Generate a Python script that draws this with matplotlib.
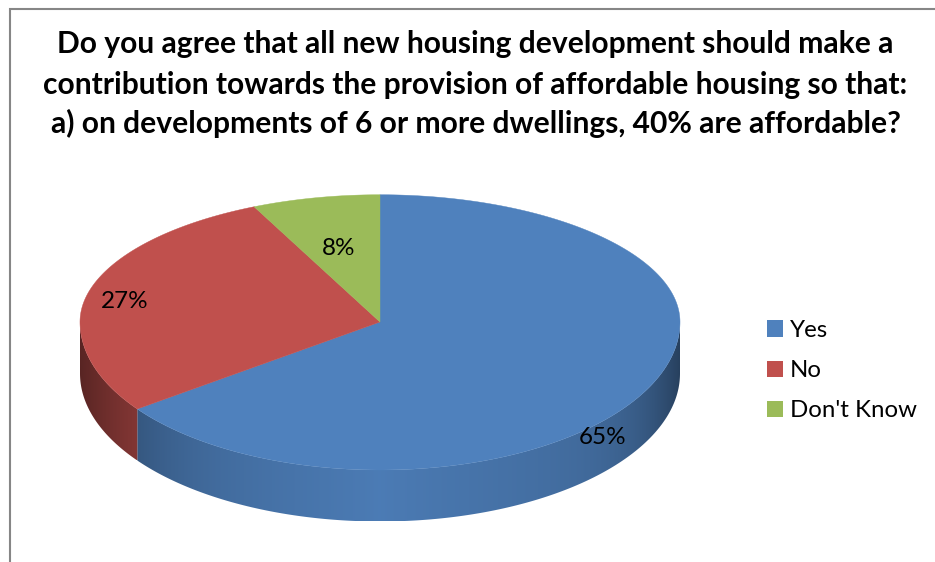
import numpy as np
import matplotlib
matplotlib.use("Agg")
from matplotlib import pyplot as plt
from matplotlib.patches import Patch, Polygon

plt.rcParams['font.family'] = ['Lato', 'DejaVu Sans']

# Survey results
categories = ["Yes", "No", "Don't Know"]
shares = [65, 27, 8]
labels = ["65%", "27%", "8%"]
title_lines = [
    "Do you agree that all new housing development should make a",
    "contribution towards the provision of affordable housing so that:",
    "a) on developments of 6 or more dwellings, 40% are affordable?",
]

top_colors = ["#4F81BD", "#C0504D", "#9BBB59"]
frame_color = "#868686"

# Pie geometry in pixels
cx, cy = 380.0, 322.0
rx, ry = 300.0, 148.0
depth = 51.5


def project(theta):
    # theta is measured clockwise from 12 o'clock; the far half is squeezed a bit
    u = np.sin(theta)
    v = np.cos(theta)
    back = np.clip(v, 0, None)**2
    x = cx + rx*u/(1 + 0.193*back)
    y = cy - ry*v/(1 + 0.163*back)
    return x, y


def rim_shade(x):
    # horizontal shading of the rim, strongest at the two ends
    s = (x - cx)/rx
    left = 0.96 - 0.16*np.abs(s)**0.8 - 0.34*np.abs(s)**4
    right = 0.96 - 0.16*np.abs(s)**0.8 - 0.30*np.abs(s)**7
    return np.where(s < 0, left, right)


fig = plt.figure(figsize=(9.35, 5.62), dpi=100)
ax = fig.add_axes([0, 0, 1, 1])

# Chart border: only the top and left edges are in view
ax.plot([10.3, 10.3, 935], [562, 9.3, 9.3], color=frame_color, lw=1.5, solid_joinstyle="miter")

edges = np.deg2rad(np.concatenate([[0], np.cumsum(shares)])*3.6)

# Rim of the front half, one gradient image per slice clipped to its outline
for i in range(len(shares)):
    t0 = max(edges[i], np.pi/2)
    t1 = min(edges[i+1], 3*np.pi/2)
    if t1 <= t0:
        continue
    theta = np.linspace(t0, t1, 300)
    x, y = project(theta)
    outline = np.column_stack([np.r_[x, x[::-1]], np.r_[y, y[::-1] + depth]])
    xs = np.linspace(x.min(), x.max(), 400)
    base = np.array(matplotlib.colors.to_rgb(top_colors[i]))
    strip = np.clip(base[None, None, :]*rim_shade(xs)[None, :, None], 0, 1)
    img = ax.imshow(strip, extent=[xs[0], xs[-1], y.max() + depth, y.min()], aspect="auto",
                    interpolation="bilinear", zorder=1)
    clip = Polygon(outline, closed=True, transform=ax.transData)
    img.set_clip_path(clip)

# Top face
for i in range(len(shares)):
    theta = np.linspace(edges[i], edges[i+1], 300)
    x, y = project(theta)
    ax.fill(np.r_[cx, x], np.r_[cy, y], color=top_colors[i], lw=0.3, zorder=2)

# Value labels
label_pos = [(602.5, 437), (125, 302), (339, 248.5)]
for text, (lx, ly) in zip(labels, label_pos):
    ax.text(lx, ly, text, ha="center", va="center", fontsize=17.5, color="black", zorder=3)

for line, ty in zip(title_lines, [53.5, 94, 133]):
    ax.text(475.5, ty, line, ha="center", va="baseline", fontsize=21.6, fontweight="bold", color="black")

handles = [Patch(facecolor=c, edgecolor="none") for c in top_colors]
ax.legend(handles, categories, loc="upper left", bbox_to_anchor=(767/935, 1 - 320/562),
          frameon=False, fontsize=17.3, handlelength=0.667, handleheight=0.667,
          handletextpad=0.29, labelspacing=0.80, borderpad=0, borderaxespad=0)

ax.set_xlim(0, 935)
ax.set_ylim(562, 0)
ax.axis("off")

fig.savefig("out.png", dpi=100)
